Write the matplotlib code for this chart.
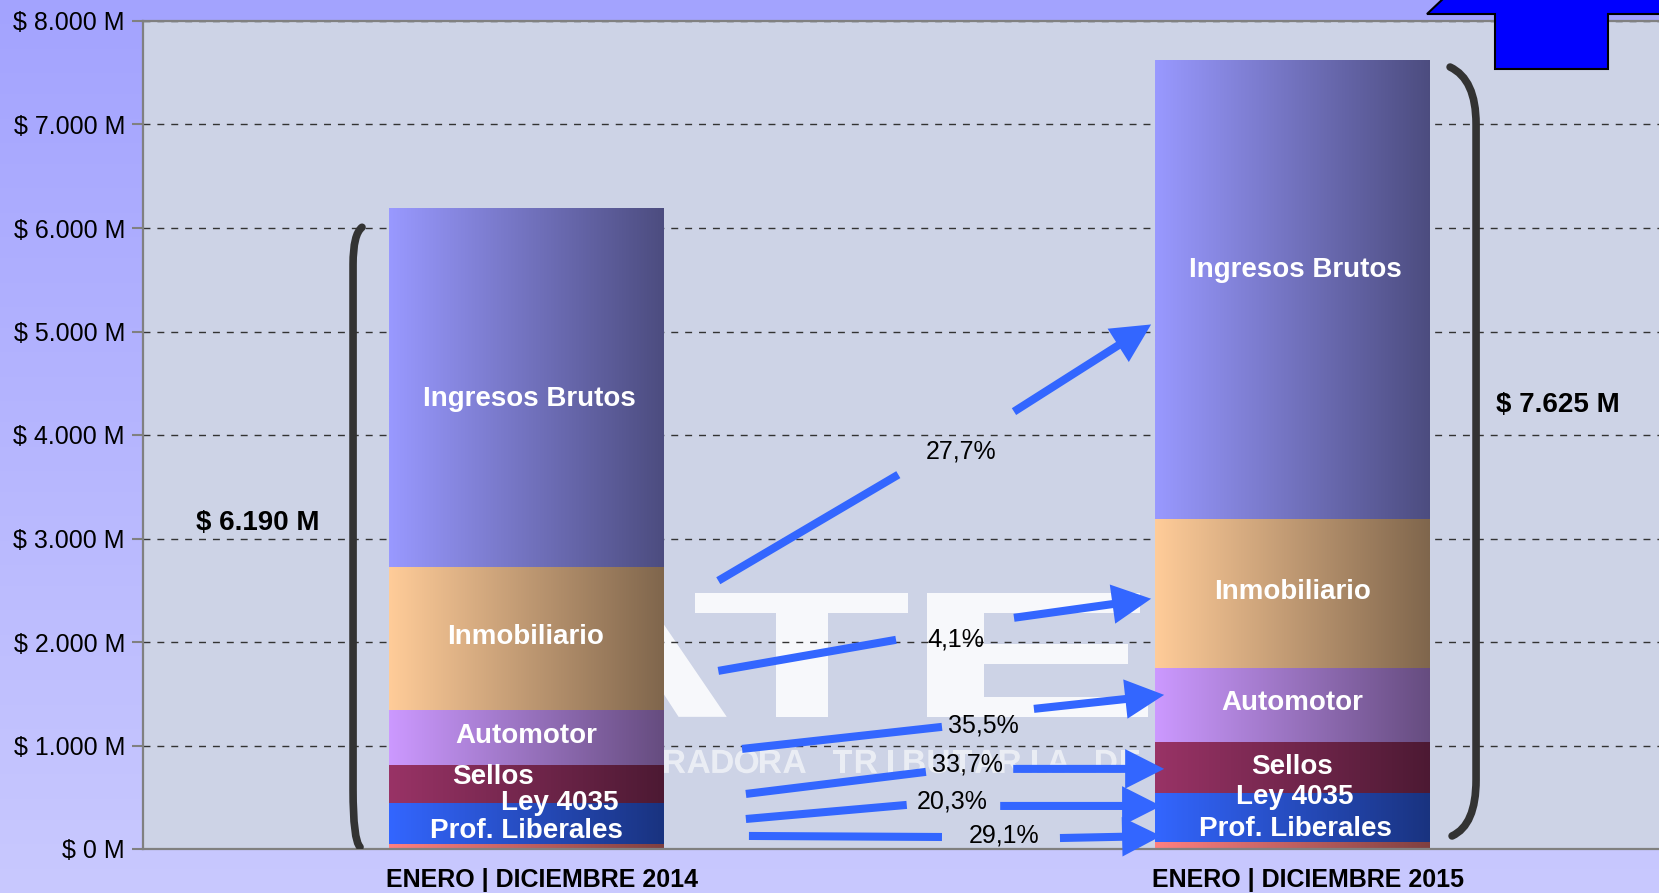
"""Recaudación por impuesto, enero-diciembre 2014 vs 2015 (barras apiladas con degradé)."""

import numpy as np
import matplotlib
matplotlib.use("Agg")
import matplotlib.pyplot as plt
from matplotlib.colors import LinearSegmentedColormap, to_rgb
from matplotlib.font_manager import FontProperties
from matplotlib.patches import PathPatch, Polygon
from matplotlib.path import Path
from matplotlib.textpath import TextPath
from matplotlib.ticker import FuncFormatter, MultipleLocator
from matplotlib.transforms import Affine2D

plt.rcParams["font.family"] = ["Liberation Sans", "DejaVu Sans"]

# --- data (millones de $) ---------------------------------------------------
PERIODS = ["ENERO | DICIEMBRE 2014", "ENERO | DICIEMBRE 2015"]
SEGMENTS = ["Prof. Liberales", "Ley 4035", "Sellos", "Automotor", "Inmobiliario", "Ingresos Brutos"]
VALUES_2014 = [50, 395, 367, 532, 1383, 3463]
VALUES_2015 = [65, 475, 491, 721, 1440, 4433]
GROWTH = ["29,1%", "20,3%", "33,7%", "35,5%", "4,1%", "27,7%"]
SEGMENT_COLORS = ["#FF8080", "#3366FF", "#993366", "#CC99FF", "#FFCC99", "#9999FF"]

# --- layout (data coords) ----------------------------------------------------
BAR_WIDTH = 0.358
PERIOD_LABEL_DX = 0.021
# label (dx, y) per segment, bottom to top
LABEL_POS = [
    [(0.0, 174), (0.044, 445), (-0.043, 697), (0.0, 1093), (0.0, 2051), (0.005, 4352)],
    [(0.004, 198), (0.004, 503), (0.0, 793), (0.0, 1406), (0.0, 2480), (0.004, 5590)],
]
# growth arrows: tail segment, label position, head segment
ARROWS = [
    ((0.291, 126), (0.543, 116), (0.624, 126), (0.697, 106), (0.829, 126)),
    ((0.287, 290), (0.497, 426), (0.556, 455), (0.619, 416), (0.829, 416)),
    ((0.287, 532), (0.522, 745), (0.576, 812), (0.636, 774), (0.833, 774)),
    ((0.282, 967), (0.543, 1180), (0.597, 1190), (0.663, 1354), (0.833, 1489)),
    ((0.251, 1721), (0.483, 2021), (0.561, 2021), (0.637, 2234), (0.816, 2418)),
    ((0.251, 2592), (0.486, 3617), (0.568, 3839), (0.637, 4226), (0.816, 5068)),
]
BRACKETS = [
    [(-0.2141, 6007), (-0.2258, 5939), (-0.2258, 5649), (-0.2258, 571), (-0.2258, 87), (-0.2167, 19)],
    [(1.2063, 7555), (1.2402, 7437), (1.2402, 7004), (1.2402, 667), (1.2402, 232), (1.2089, 126)],
]
TOTAL_POS = [(-0.35, 3153), (1.347, 4294)]

# watermark: big logo letters (x0, x1) and the tracked subtitle
LOGO = "ATER"
LOGO_X = [(-0.034, 0.262), (0.221, 0.499), (0.524, 0.812), (0.836, 1.116)]
LOGO_Y = (1277, 2476)
SUBTITLE = "ADMINISTRADORA TRIBUTARIA DE ENTRE RÍOS"
SUB_X0, SUB_CELL, SUB_Y = -0.072, 0.0313, (735, 958)

ARROW_BLUE = "#3366FF"
W, H, DPI = 1659, 893, 100
PX_PER_X, PX_PER_Y = 766, 0.1034   # pixels per data unit, used to keep glyph proportions
BOLD = FontProperties(family="Liberation Sans", weight="bold")
CAP = TextPath((0, 0), "H", size=1, prop=BOLD).get_extents().height


def money(v, _=None):
    return f"$ {v:,.0f} M".replace(",", ".")


def gradient_bar(ax, x, bottom, height, color):
    bar = ax.bar(x, height, BAR_WIDTH, bottom=bottom, color="none", edgecolor="none", zorder=2)[0]
    light = np.array(to_rgb(color))
    cmap = LinearSegmentedColormap.from_list("seg", [light, light * 0.5])
    img = ax.imshow(np.linspace(0, 1, 256)[None, :], cmap=cmap, aspect="auto",
                    extent=(x - BAR_WIDTH / 2, x + BAR_WIDTH / 2, bottom, bottom + height),
                    interpolation="bilinear", zorder=2)
    img.set_clip_path(bar)


def glyph(ax, ch, x0, x1, y0, y1, alpha, center=False):
    """Draw one bold character with its cap height spanning y0..y1."""
    tp = TextPath((0, 0), ch, size=1, prop=BOLD)
    ext = tp.get_extents()
    sy = (y1 - y0) / CAP
    if center:
        # natural proportions, centred in the cell
        sx = (y1 - y0) * PX_PER_Y / CAP / PX_PER_X
        tr = Affine2D().translate(-(ext.x0 + ext.width / 2), 0).scale(sx, sy).translate((x0 + x1) / 2, y0)
    else:
        tr = Affine2D().translate(-ext.x0, 0).scale((x1 - x0) / ext.width, sy).translate(x0, y0)
    ax.add_patch(PathPatch(tr.transform_path(tp), facecolor="white", edgecolor="none",
                           alpha=alpha, zorder=0.3))


fig = plt.figure(figsize=(W / DPI, H / DPI), dpi=DPI)

# lavender page background
bg = fig.add_axes([0, 0, 1, 1], zorder=-10)
bg.imshow(np.linspace(0, 1, 256)[:, None], aspect="auto", extent=(0, 1, 0, 1),
          cmap=LinearSegmentedColormap.from_list("bg", ["#C9C9FE", "#A3A3FE"]), origin="lower")
bg.axis("off")

ax = fig.add_axes([143 / W, 1 - 849 / H, 1 - 143 / W, (849 - 21) / H])
ax.set_facecolor("#CDD3E6")

for ch, (x0, x1) in zip(LOGO, LOGO_X):
    glyph(ax, ch, x0, x1, *LOGO_Y, alpha=0.85)
for k, ch in enumerate(SUBTITLE):
    if ch != " ":
        x0 = SUB_X0 + k * SUB_CELL
        glyph(ax, ch, x0, x0 + SUB_CELL, *SUB_Y, alpha=0.6, center=True)

xs = np.arange(len(PERIODS))
for i, values in enumerate([VALUES_2014, VALUES_2015]):
    bottoms = np.concatenate([[0], np.cumsum(values)[:-1]])
    for j, (val, b) in enumerate(zip(values, bottoms)):
        gradient_bar(ax, xs[i], b, val, SEGMENT_COLORS[j])
        dx, ly = LABEL_POS[i][j]
        ax.text(xs[i] + dx, ly, SEGMENTS[j], color="white", fontsize=20, fontweight="bold",
                ha="center", va="center", zorder=6)
    # bracket + total
    p = BRACKETS[i]
    codes = [Path.MOVETO, Path.CURVE3, Path.CURVE3, Path.LINETO, Path.CURVE3, Path.CURVE3]
    ax.add_patch(PathPatch(Path(p, codes), facecolor="none", edgecolor="#333333",
                           lw=5.5, capstyle="round", zorder=3))
    tx, ty = TOTAL_POS[i]
    ax.text(tx, ty, money(sum(values)), fontsize=20, fontweight="bold", ha="center", va="center")
    # period label under the bar
    ax.text(xs[i] + PERIOD_LABEL_DX, -19 / 828, PERIODS[i], transform=ax.get_xaxis_transform(),
            fontsize=18, fontweight="bold", ha="center", va="top")

# growth arrows
for (a0, a1, lab, b0, b1), pct in zip(ARROWS, GROWTH):
    ax.plot([a0[0], a1[0]], [a0[1], a1[1]], color=ARROW_BLUE, lw=5.8, solid_capstyle="butt", zorder=5)
    ax.annotate("", xy=b1, xytext=b0,
                arrowprops=dict(arrowstyle="-|>,head_length=0.75,head_width=0.38", color=ARROW_BLUE,
                                lw=5.8, mutation_scale=25, shrinkA=0, shrinkB=0,
                                joinstyle="miter", capstyle="butt"), zorder=5)
    ax.text(lab[0], lab[1], pct, fontsize=18, ha="center", va="center", zorder=6)

ax.set_xlim(-0.5, 1.479)
ax.set_ylim(0, 8000)
ax.yaxis.set_major_locator(MultipleLocator(1000))
ax.yaxis.set_major_formatter(FuncFormatter(money))
ax.grid(axis="y", color="#333333", lw=1, linestyle=(0, (5, 5)))
ax.set_axisbelow(True)

ax.set_xticks([])
ax.tick_params(axis="y", length=8, width=1.5, color="#808080", pad=5, labelsize=18)
for side in ["left", "bottom", "top"]:
    ax.spines[side].set_color("#808080")
    ax.spines[side].set_linewidth(1.6)
ax.spines["right"].set_visible(False)

# decorative blue tab in the corner
px = [(1427, 14), (1445, -3), (1665, -3), (1665, 14), (1608, 14), (1608, 69), (1495, 69), (1495, 14)]
fig.add_artist(Polygon([(x / W, 1 - y / H) for x, y in px], closed=True, facecolor="#0000FF",
                       edgecolor="black", lw=1.5, transform=fig.transFigure, zorder=5))

fig.savefig("out.png", dpi=DPI)
